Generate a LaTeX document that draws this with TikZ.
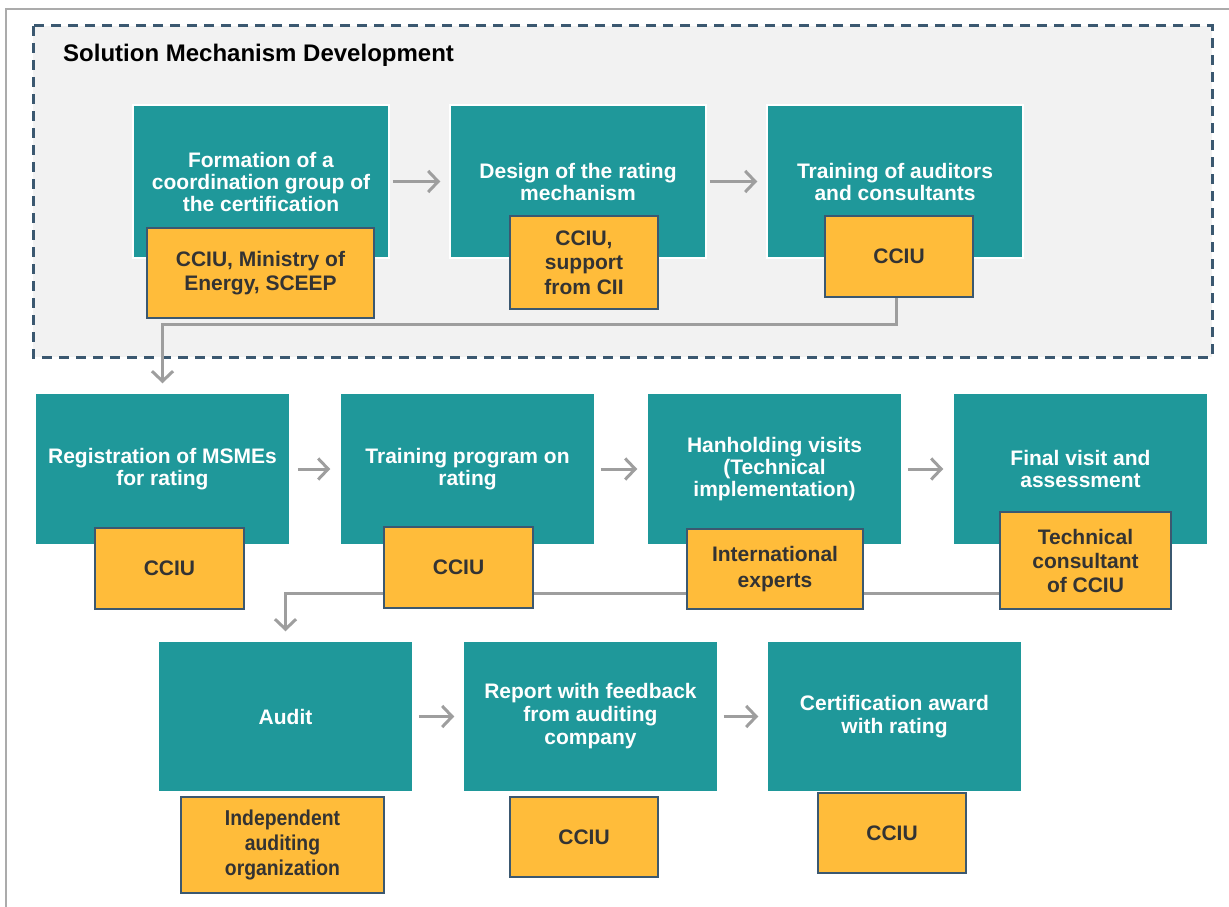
\documentclass[tikz,border=0pt]{standalone}
\usepackage{fontspec}
\setmainfont{Liberation Sans}
\newfontfamily\narrowfont{Liberation Sans}[FakeStretch=0.9]
\usetikzlibrary{arrows.meta,calc}
\definecolor{tealbox}{HTML}{1F989A}
\definecolor{orangebox}{HTML}{FFBC3A}
\definecolor{slateline}{HTML}{3B5870}
\definecolor{graybg}{HTML}{F2F2F2}
\definecolor{arrowgray}{HTML}{9E9E9E}
\definecolor{framegray}{HTML}{ABABAB}
\definecolor{darktext}{HTML}{333333}
\pgfdeclarelayer{bg}
\pgfdeclarelayer{mid}
\pgfsetlayers{bg,mid,main}
\tikzset{
  tealnode/.style={rectangle, fill=tealbox, draw=white, line width=1.5pt, inner sep=0pt,
    minimum height=152pt, minimum width=255pt, text=white, align=center,
    font=\fontsize{21pt}{22pt}\selectfont\bfseries},
  orangenode/.style={rectangle, fill=orangebox, draw=slateline, line width=1.2pt, inner sep=0pt,
    text=darktext, align=center, font=\fontsize{21pt}{24.5pt}\selectfont\bfseries},
  arr/.style={draw=arrowgray, line width=3pt, -{Straight Barb[length=10pt,width=21pt,line width=3pt]}},
}
\begin{document}
\begin{tikzpicture}[x=1pt,y=-1pt]
\useasboundingbox (0,0) rectangle (1229,907);
\begin{pgfonlayer}{bg}
  \fill[white] (0,0) rectangle (1229,907);
  \draw[framegray, line width=1.5pt] (6,907) -- (6,9) -- (1229,9);
  \draw[slateline, fill=graybg, line width=3pt, dash pattern=on 10pt off 7pt] (33,26) rectangle (1212,357);
  \node[anchor=west, inner sep=0pt, font=\fontsize{24pt}{28pt}\selectfont\bfseries] (title) at (63,55) {Solution Mechanism Development};
\end{pgfonlayer}

% orange (front) boxes
\node[orangenode, minimum width=227pt, minimum height=90pt] (o1) at (260.5,273) {CCIU, Ministry of\\Energy, SCEEP};
\node[orangenode, minimum width=148pt, minimum height=93pt] (o2) at (584,262.5) {CCIU,\\support\\from CII};
\node[orangenode, minimum width=148pt, minimum height=81pt] (o3) at (899,256.5) {CCIU};
\node[orangenode, minimum width=149pt, minimum height=81pt] (oA) at (169.5,568.5) {CCIU};
\node[orangenode, minimum width=149pt, minimum height=81pt] (oB) at (458.5,567.5) {CCIU};
\node[orangenode, minimum width=176pt, minimum height=80pt, font=\fontsize{21pt}{26pt}\selectfont\bfseries] (oC) at (775,569) {International\\experts};
\node[orangenode, minimum width=171pt, minimum height=97pt, font=\fontsize{21pt}{24pt}\selectfont\bfseries] (oD) at (1085.5,560.5) {Technical\\consultant\\of CCIU};
\node[orangenode, minimum width=203pt, minimum height=96pt, font=\narrowfont\fontsize{21.5pt}{25pt}\selectfont\bfseries] (oE) at (282.5,845) {Independent\\auditing\\organization};
\node[orangenode, minimum width=148pt, minimum height=80pt] (oF) at (584,837) {CCIU};
\node[orangenode, minimum width=148pt, minimum height=80pt] (oG) at (892,833) {CCIU};

\begin{pgfonlayer}{mid}
  \node[tealnode, minimum width=256pt, minimum height=153pt] (t1) at (261,181.5) {Formation of a\\coordination group of\\the certification};
  \node[tealnode, minimum width=256pt, minimum height=153pt] (t2) at (578,181.5) {Design of the rating\\mechanism};
  \node[tealnode, minimum width=256pt, minimum height=153pt] (t3) at (895,181.5) {Training of auditors\\and consultants};
  \node[tealnode] (tA) at (162.5,469) {Registration of MSMEs\\for rating};
  \node[tealnode] (tB) at (467.5,469) {Training program on\\rating};
  \node[tealnode] (tC) at (774.5,469) {Hanholding visits\\(Technical\\implementation)};
  \node[tealnode] (tD) at (1080.5,469) {Final visit and\\assessment};
  \node[tealnode, minimum height=151pt] (tE) at (285.5,716.5) {Audit};
  \node[tealnode, minimum height=151pt, font=\fontsize{21pt}{23pt}\selectfont\bfseries] (tF) at (590.5,716.5) {Report with feedback\\from auditing\\company};
  \node[tealnode, minimum height=151pt, font=\fontsize{21pt}{23pt}\selectfont\bfseries] (tG) at (894.5,716.5) {Certification award\\with rating};

  \draw[arr, shorten <=3pt, shorten >=9pt] (t1.east) -- (t2.west);
  \draw[arr, shorten <=3pt, shorten >=9pt] (t2.east) -- (t3.west);
  \draw[arr, shorten <=7pt, shorten >=9pt] (tA.east) -- (tB.west);
  \draw[arr, shorten <=5pt, shorten >=9pt] (tB.east) -- (tC.west);
  \draw[arr, shorten <=5pt, shorten >=9pt] (tC.east) -- (tD.west);
  \draw[arr, shorten <=5pt, shorten >=8pt] (tE.east) -- (tF.west);
  \draw[arr, shorten <=5pt, shorten >=8pt] (tF.east) -- (tG.west);

  \draw[arr, shorten >=9pt] ([xshift=-3pt]o3.south) -- ++(0,27) -| (tA.north);
  \draw[arr, shorten >=9pt] ([yshift=-32.5pt]oD.west) -| (tE.north);
\end{pgfonlayer}
\end{tikzpicture}
\end{document}
